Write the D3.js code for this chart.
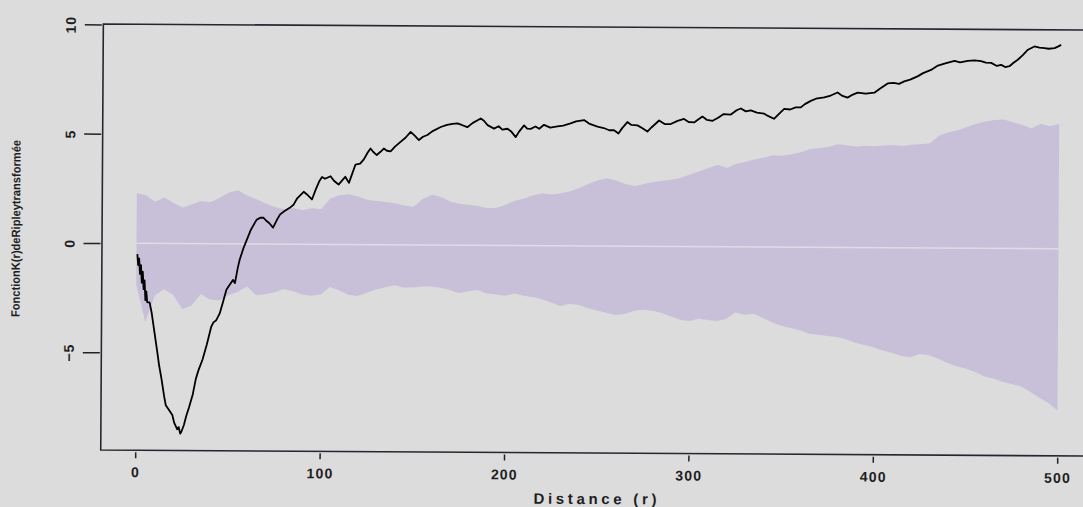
<!DOCTYPE html>
<html>
<head>
<meta charset="utf-8">
<script src="https://cdn.jsdelivr.net/npm/d3@7/dist/d3.min.js"></script>
<style>
  html, body { margin: 0; padding: 0; background: #dcdcdc; }
  svg { display: block; }
  text { font-family: "Liberation Sans", Arial, sans-serif; fill: #1e1e1e; }
</style>
</head>
<body>
<svg id="chart" width="1083" height="507"></svg>
<script>
// Transformed Ripley K function: observed curve and simulation envelope

// Envelope sampled every 5 units of distance
const envR = d3.range(0, 501, 5);
const envHigh = [
  2.3, 2.2, 1.9, 2.1, 1.85, 1.65, 1.8, 1.95, 1.9, 2.1,
  2.35, 2.45, 2.2, 2.05, 1.85, 1.7, 1.6, 1.65, 1.55, 1.65,
  1.6, 2.1, 2.25, 2.3, 2.2, 2.05, 2.0, 1.95, 1.9, 1.8,
  1.75, 2.1, 2.3, 2.2, 2.0, 1.9, 1.85, 1.8, 1.7, 1.72,
  1.85, 2.05, 2.15, 2.3, 2.4, 2.35, 2.4, 2.5, 2.65, 2.85,
  3.0, 3.1, 3.0, 2.85, 2.75, 2.85, 2.95, 3.0, 3.05, 3.15,
  3.3, 3.45, 3.6, 3.75, 3.6, 3.8, 3.9, 4.0, 4.1, 4.2,
  4.18, 4.25, 4.35, 4.5, 4.55, 4.6, 4.72, 4.68, 4.62, 4.66,
  4.64, 4.68, 4.7, 4.66, 4.72, 4.75, 4.8, 5.15, 5.3, 5.4,
  5.55, 5.7, 5.8, 5.88, 5.9, 5.78, 5.65, 5.5, 5.72, 5.6,
  5.72
];
const envLow = [
  -1.9, -3.6, -2.4, -2.1, -2.35, -3.0, -2.85, -2.3, -2.55, -2.6,
  -2.35, -2.2, -1.95, -2.35, -2.3, -2.2, -2.05, -2.15, -2.3, -2.35,
  -2.3, -1.95, -2.1, -2.3, -2.35, -2.2, -2.05, -1.95, -1.85, -1.95,
  -1.95, -1.9, -1.9, -1.95, -2.05, -2.2, -2.1, -2.05, -2.2, -2.25,
  -2.3, -2.2, -2.3, -2.35, -2.45, -2.6, -2.75, -2.65, -2.7, -2.85,
  -2.95, -3.05, -3.15, -3.1, -2.95, -2.9, -2.95, -3.05, -3.2, -3.35,
  -3.4, -3.3, -3.35, -3.4, -3.3, -3.0, -3.1, -3.05, -3.25, -3.45,
  -3.6, -3.7, -3.8, -3.95, -4.0, -4.05, -4.1, -4.2, -4.35, -4.45,
  -4.55, -4.7, -4.8, -4.95, -5.0, -4.85, -4.9, -5.05, -5.25, -5.4,
  -5.5, -5.65, -5.85, -5.95, -6.1, -6.2, -6.3, -6.55, -6.8, -7.05,
  -7.4
];

// Observed transformed K function
const obsR = [
  0.5, 1, 1.5, 2, 2.5, 3, 3.5, 4, 4.5, 5, 5.5, 6,
  7.3, 8.5, 10, 11.5, 12.7, 14, 15.5, 16.4, 18, 20, 21, 22.7, 23.5, 24.3, 25,
  26.3, 27.5, 29, 31, 32.6, 34, 36.2, 38.5, 40.8, 42, 43.5, 45.3, 47, 48.9,
  50.5, 52.5, 53.5, 55, 56, 58, 59.8, 62, 65, 67, 68.8, 70.5, 72, 74, 76,
  77.8, 80, 83, 85, 87, 90.5, 92, 95, 97, 99, 100.4, 102, 105, 107, 109.4,
  111, 113, 115, 117, 118.5, 121, 123, 125, 126.6, 128, 130, 132, 133.8,
  135.5, 137.5, 140, 143, 145.5, 148.3, 150.5, 152.8, 155, 157.4, 160, 164.6,
  168, 171, 173.6, 176, 179, 182, 186.3, 188, 190, 193.5, 196, 198, 200.8,
  203, 205.3, 207, 209.8, 211.5, 213.4, 216, 218, 220.6, 224, 227.9, 231,
  235, 238, 242.3, 245, 249.6, 253, 256, 258.6, 261, 263, 265.8, 268, 271.3,
  274, 276.7, 279, 283, 286, 289.3, 293, 296.5, 299, 302, 304, 306.5, 309,
  312, 315, 318, 321.9, 325, 327.3, 330, 332.7, 336, 340, 342, 345.3, 348,
  350.8, 354, 357, 359.8, 362, 365.2, 368, 372.5, 376, 379.7, 382, 385.1,
  388, 390.6, 395, 399.6, 403, 406.8, 410, 413, 415.8, 419, 423, 426, 430.3,
  434, 438, 443, 446, 450.2, 454, 457.4, 460, 462.9, 466, 468.3, 470.5,
  472.8, 475, 477.3, 480, 482.8, 486.3, 489, 491.8, 494, 497.2, 499, 500.8
];
const obsK = [
  -0.5, -1.0, -0.7, -1.4, -1.0, -1.8, -1.3, -2.1, -1.7, -2.6, -2.2, -2.7,
  -2.7, -3.2, -4.05, -4.9, -5.6, -6.2, -7.0, -7.4, -7.6, -7.85, -8.2, -8.5, -8.4, -8.7, -8.6,
  -8.3, -7.9, -7.5, -6.9, -6.2, -5.8, -5.3, -4.6, -3.8, -3.6, -3.5, -3.2, -2.7, -2.1,
  -1.9, -1.65, -1.8, -1.1, -0.73, -0.2, 0.18, 0.65, 1.1, 1.2, 1.2, 1.05, 0.95, 0.75, 1.1,
  1.36, 1.5, 1.66, 1.8, 2.1, 2.4, 2.3, 2.05, 2.5, 2.9, 3.08, 3.0, 3.12, 2.9, 2.74,
  2.9, 3.1, 2.82, 3.3, 3.66, 3.7, 3.9, 4.2, 4.4, 4.25, 4.1, 4.25, 4.4,
  4.3, 4.27, 4.5, 4.72, 4.9, 5.17, 5.0, 4.8, 4.95, 5.03, 5.2, 5.4,
  5.5, 5.55, 5.57, 5.5, 5.4, 5.6, 5.8, 5.7, 5.5, 5.34, 5.45, 5.3, 5.34,
  5.2, 4.96, 5.2, 5.5, 5.35, 5.34, 5.45, 5.35, 5.53, 5.4, 5.46, 5.5,
  5.6, 5.7, 5.76, 5.6, 5.46, 5.4, 5.3, 5.3, 5.15, 5.4, 5.68, 5.55, 5.53,
  5.4, 5.25, 5.45, 5.76, 5.6, 5.6, 5.75, 5.84, 5.7, 5.68, 5.8, 5.95, 5.8,
  5.76, 5.9, 6.07, 6.05, 6.25, 6.33, 6.2, 6.25, 6.15, 6.1, 6.0, 5.87, 6.1,
  6.33, 6.3, 6.4, 6.4, 6.55, 6.7, 6.8, 6.86, 6.95, 7.09, 6.95, 6.86,
  7.0, 7.09, 7.05, 7.09, 7.3, 7.52, 7.55, 7.5, 7.62, 7.7, 7.85, 8.0, 8.15,
  8.35, 8.45, 8.57, 8.5, 8.57, 8.6, 8.57, 8.5, 8.49, 8.35, 8.4, 8.3,
  8.34, 8.5, 8.64, 8.85, 9.1, 9.25, 9.2, 9.18, 9.15, 9.18, 9.25, 9.33
];

const xTicks = [0, 100, 200, 300, 400, 500];
const yTicks = [-5, 0, 5, 10];

const xLabel = "Distance (r)";
const yLabel = "FonctionK(r)deRipleytransformée";

const svg = d3.select("#chart");

const x = d3.scaleLinear().domain([0, 500]).range([136.5, 1058.5]);
const y = d3.scaleLinear().domain([0, 10]).range([243, 24.4]);

const frame = { left: 102, top: 24, bottom: 450, right: 1090 };

// the whole figure sits at a slight angle
const g = svg.append("g").attr("transform", "rotate(0.35, 102, 243)");

const env = envR.map((r, i) => ({ r, hi: envHigh[i], lo: envLow[i] }));

g.append("path")
  .datum(env)
  .attr("fill", "#c8c0d8")
  .attr("d", d3.area().x(d => x(d.r)).y0(d => y(d.lo)).y1(d => y(d.hi)));

// theoretical value line
g.append("line")
  .attr("x1", x(0)).attr("x2", x(500))
  .attr("y1", y(0)).attr("y2", y(0))
  .attr("stroke", "#e0dbe8").attr("stroke-width", 1.5);

const obs = obsR.map((r, i) => ({ r, k: obsK[i] }));
g.append("path")
  .datum(obs)
  .attr("fill", "none")
  .attr("stroke", "#000")
  .attr("stroke-width", 1.8)
  .attr("stroke-linejoin", "round")
  .attr("d", d3.line().x(d => x(d.r)).y(d => y(d.k)));

// plot frame
g.append("path")
  .attr("d", `M${frame.right},${frame.top}H${frame.left}V${frame.bottom}H${frame.right}`)
  .attr("fill", "none")
  .attr("stroke", "#2a2430")
  .attr("stroke-width", 1.6);

// x axis
const xAxis = g.append("g").attr("transform", `translate(0,${frame.bottom + 2})`)
  .call(d3.axisBottom(x).tickValues(xTicks).tickSize(6).tickPadding(9).tickFormat(d3.format("d")));
xAxis.select(".domain").remove();
xAxis.selectAll(".tick line").attr("stroke", "#222").attr("stroke-width", 1.5);
xAxis.selectAll(".tick text")
  .attr("font-size", 14).attr("font-weight", "bold")
  .attr("letter-spacing", 1.2).attr("fill", "#1e1e1e")
  .attr("font-family", "Liberation Sans, Arial, sans-serif");

// y axis
const yAxis = g.append("g").attr("transform", `translate(${frame.left - 1.5},0)`)
  .call(d3.axisLeft(y).tickValues(yTicks).tickSize(17).tickPadding(0).tickFormat(d3.format("d")));
yAxis.select(".domain").remove();
yAxis.selectAll(".tick line").attr("stroke", "#222").attr("stroke-width", 1.5);
yAxis.selectAll(".tick text")
  .attr("x", 0).attr("dy", 0)
  .attr("transform", "translate(-31,0) rotate(-90)")
  .attr("text-anchor", "middle")
  .attr("dominant-baseline", "central")
  .attr("font-size", 14).attr("font-weight", "bold")
  .attr("letter-spacing", 1).attr("fill", "#1e1e1e")
  .attr("font-family", "Liberation Sans, Arial, sans-serif");

// axis titles
g.append("text")
  .attr("x", 596.5).attr("y", 501)
  .attr("text-anchor", "middle")
  .attr("font-size", 15).attr("font-weight", "bold")
  .attr("textLength", 123).attr("lengthAdjust", "spacing")
  .text(xLabel);

g.append("text")
  .attr("transform", "translate(20,229) rotate(-90)")
  .attr("text-anchor", "middle")
  .attr("font-size", 12).attr("font-weight", "bold")
  .attr("textLength", 177).attr("lengthAdjust", "spacingAndGlyphs")
  .text(yLabel);
</script>
</body>
</html>
